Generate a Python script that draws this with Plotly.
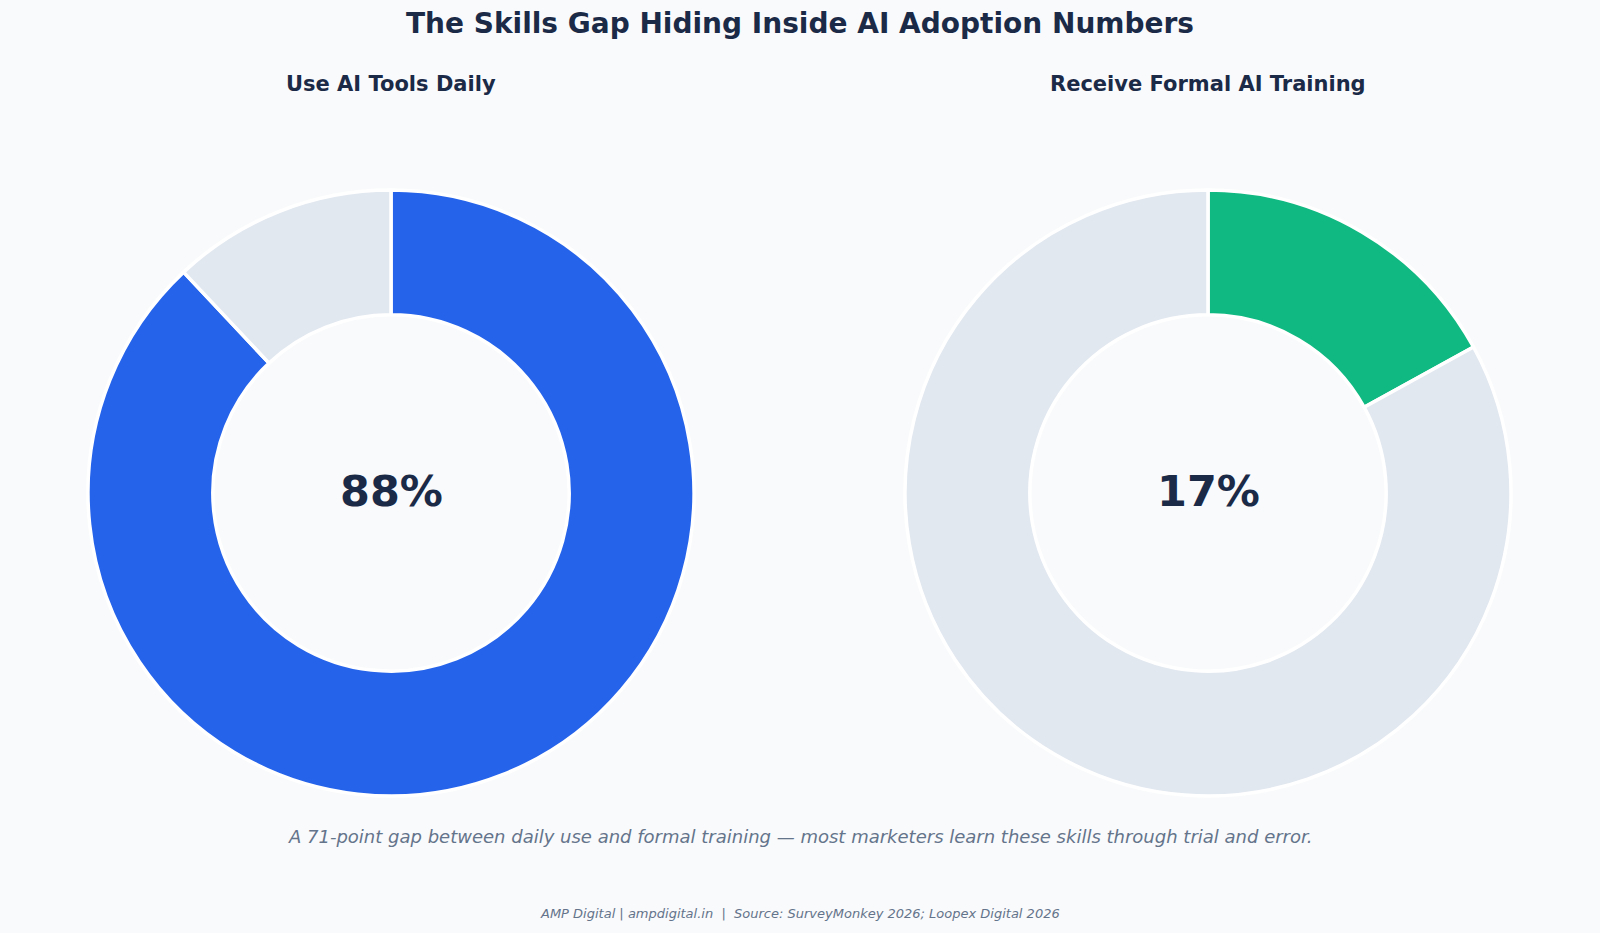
import plotly.graph_objects as go

W, H = 1600, 933

# Data
panel_titles = ["Use AI Tools Daily", "Receive Formal AI Training"]
slice_labels = [["Use daily", "Other"], ["Formal training", "No formal training"]]
values = [[88, 12], [17, 83]]
center_labels = ["88%", "17%"]
main_title = "The Skills Gap Hiding Inside AI Adoption Numbers"
note = "A 71-point gap between daily use and formal training \u2014 most marketers learn these skills through trial and error."
footer = "AMP Digital | ampdigital.in  |  Source: SurveyMonkey 2026; Loopex Digital 2026"

colors = [["#2563EB", "#E2E8F0"], ["#10B981", "#E2E8F0"]]
BG = "#F9FAFB"
NAVY = "#1B2A47"
GREY = "#64748B"
FONT = "DejaVu Sans"

centers_px = [(391, 493), (1208, 493)]
text_y = 491
R = 303

def px_x(x):
    return x / W

def px_y(y):
    return 1 - y / H

fig = go.Figure()
for i in range(2):
    cx, cy = centers_px[i]
    fig.add_trace(go.Pie(
        labels=slice_labels[i],
        values=values[i],
        hole=0.588,
        sort=False,
        direction="clockwise",
        rotation=0,
        textinfo="none",
        hoverinfo="label+percent",
        marker=dict(colors=colors[i], line=dict(color="#FFFFFF", width=3.5)),
        domain=dict(x=[px_x(cx - R), px_x(cx + R)], y=[px_y(cy + R), px_y(cy - R)]),
        showlegend=False,
    ))

annotations = []
annotations.append(dict(text=f"<b>{main_title}</b>", x=0.5, y=px_y(24), xref="paper", yref="paper",
                        showarrow=False, xanchor="center", yanchor="middle",
                        font=dict(family=FONT, size=28, color=NAVY)))
for i in range(2):
    cx, cy = centers_px[i]
    annotations.append(dict(text=f"<b>{panel_titles[i]}</b>", x=px_x(cx), y=px_y(84), xref="paper", yref="paper",
                            showarrow=False, xanchor="center", yanchor="middle",
                            font=dict(family=FONT, size=21, color=NAVY)))
    annotations.append(dict(text=f"<b>{center_labels[i]}</b>", x=px_x(cx), y=px_y(text_y), xref="paper", yref="paper",
                            showarrow=False, xanchor="center", yanchor="middle",
                            font=dict(family=FONT, size=43, color=NAVY)))
annotations.append(dict(text=f"<i>{note}</i>", x=0.5, y=px_y(836), xref="paper", yref="paper",
                        showarrow=False, xanchor="center", yanchor="middle",
                        font=dict(family=FONT, size=18, color=GREY)))
annotations.append(dict(text=f"<i>{footer}</i>", x=0.5, y=px_y(913), xref="paper", yref="paper",
                        showarrow=False, xanchor="center", yanchor="middle",
                        font=dict(family=FONT, size=13, color=GREY)))

fig.update_layout(
    width=W, height=H,
    margin=dict(l=0, r=0, t=0, b=0),
    paper_bgcolor=BG, plot_bgcolor=BG,
    annotations=annotations,
)

fig.write_html("out.html")
